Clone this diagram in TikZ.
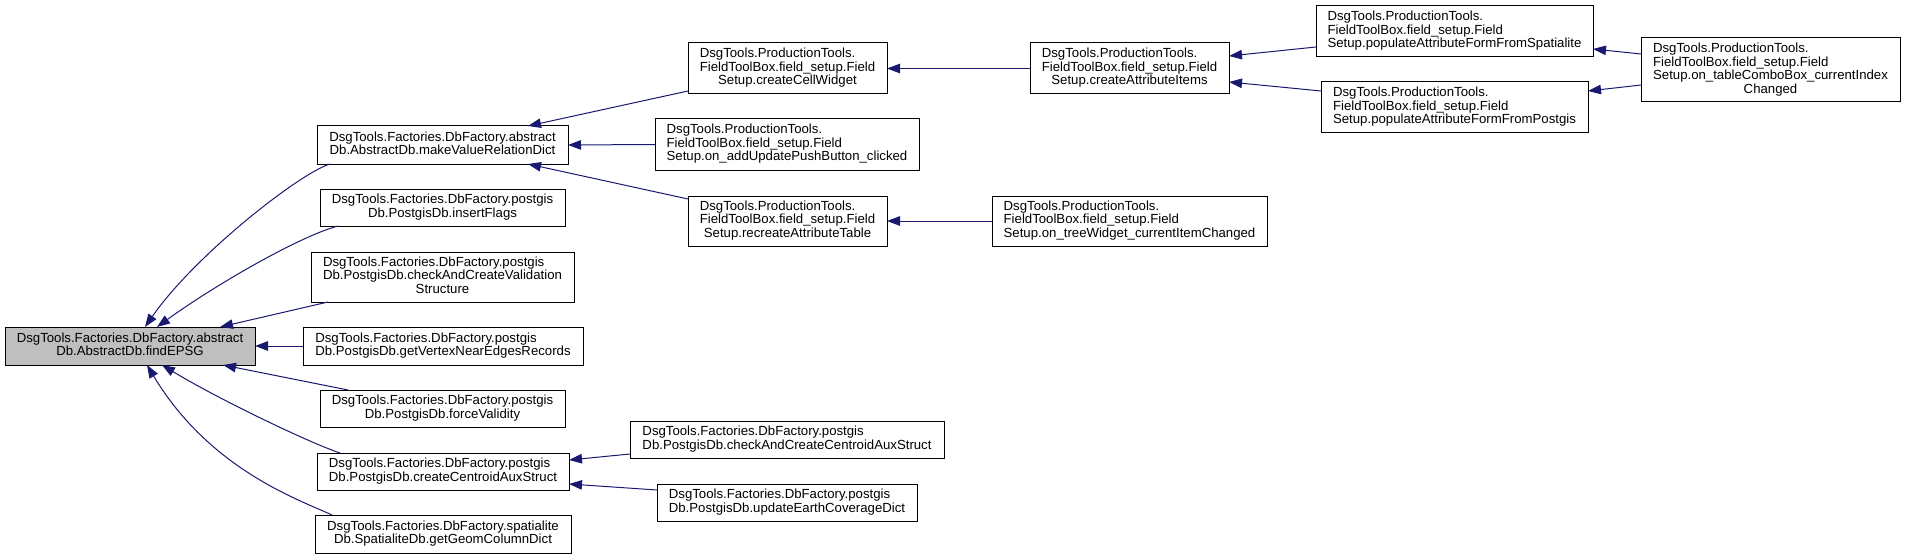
\documentclass[tikz,border=0pt]{standalone}
\usepackage{fontspec}
\setmainfont{Liberation Sans}
\usetikzlibrary{arrows.meta}
\definecolor{edgeblue}{HTML}{191970}
\definecolor{hlgray}{HTML}{BFBFBF}
\newcommand\lbox[2]{\begin{tabular}{@{}l@{}}#1\\\multicolumn{1}{@{}c@{}}{#2}\end{tabular}}
\newcommand\bx[7][]{\node[nbox,#1,minimum width={#5-#3},minimum height={#6-#4}] (#2) at ({(#3+#5)/2},{(#4+#6)/2}) {#7};}
\begin{document}
\begin{tikzpicture}[x=1pt,y=-1pt,
  nbox/.style={draw=black,line width=1pt,inner sep=0pt,outer sep=0pt,font=\fontsize{13.2}{13.2}\selectfont},
  edge/.style={draw=edgeblue,line width=1pt,{Triangle[length=13pt,width=9.5pt,fill=edgeblue]}-}]
\useasboundingbox (0,0) rectangle (1905,559);
\renewcommand\arraystretch{1}
% left column
\bx[fill=hlgray]{epsg}{5}{327}{255}{365}{\lbox{DsgTools.Factories.DbFactory.abstract}{Db.AbstractDb.findEPSG}}
% second column
\bx{mvr}{317}{126}{568}{164}{\lbox{DsgTools.Factories.DbFactory.abstract}{Db.AbstractDb.makeValueRelationDict}}
\bx{ins}{320}{189}{565}{226}{\lbox{DsgTools.Factories.DbFactory.postgis}{Db.PostgisDb.insertFlags}}
\bx{ccv}{311}{252}{574}{302}{\lbox{DsgTools.Factories.DbFactory.postgis\\Db.PostgisDb.checkAndCreateValidation}{Structure}}
\bx{gvn}{303}{327}{583}{365}{\lbox{DsgTools.Factories.DbFactory.postgis}{Db.PostgisDb.getVertexNearEdgesRecords}}
\bx{fv}{320}{390}{565}{427}{\lbox{DsgTools.Factories.DbFactory.postgis}{Db.PostgisDb.forceValidity}}
\bx{cca}{317}{453}{569}{490}{\lbox{DsgTools.Factories.DbFactory.postgis}{Db.PostgisDb.createCentroidAuxStruct}}
\bx{ggc}{315}{515}{571}{553}{\lbox{DsgTools.Factories.DbFactory.spatialite}{Db.SpatialiteDb.getGeomColumnDict}}
% third column
\bx{ccw}{688}{43}{887}{94}{\lbox{DsgTools.ProductionTools.\\FieldToolBox.field\_setup.Field}{Setup.createCellWidget}}
\bx{oau}{655}{119}{919}{170}{\lbox{DsgTools.ProductionTools.\\FieldToolBox.field\_setup.Field}{Setup.on\_addUpdatePushButton\_clicked}}
\bx{rat}{688}{196}{887}{246}{\lbox{DsgTools.ProductionTools.\\FieldToolBox.field\_setup.Field}{Setup.recreateAttributeTable}}
\bx{ccc}{630}{421}{944}{458}{\lbox{DsgTools.Factories.DbFactory.postgis}{Db.PostgisDb.checkAndCreateCentroidAuxStruct}}
\bx{uec}{657}{484}{917}{521}{\lbox{DsgTools.Factories.DbFactory.postgis}{Db.PostgisDb.updateEarthCoverageDict}}
% fourth column
\bx{cai}{1030}{43}{1229}{94}{\lbox{DsgTools.ProductionTools.\\FieldToolBox.field\_setup.Field}{Setup.createAttributeItems}}
\bx{otw}{992}{196}{1267}{246}{\lbox{DsgTools.ProductionTools.\\FieldToolBox.field\_setup.Field}{Setup.on\_treeWidget\_currentItemChanged}}
% fifth column
\bx{pas}{1316}{6}{1593}{57}{\lbox{DsgTools.ProductionTools.\\FieldToolBox.field\_setup.Field}{Setup.populateAttributeFormFromSpatialite}}
\bx{pap}{1321}{82}{1588}{133}{\lbox{DsgTools.ProductionTools.\\FieldToolBox.field\_setup.Field}{Setup.populateAttributeFormFromPostgis}}
% sixth column
\bx{otc}{1641}{38}{1900}{102}{\lbox{DsgTools.ProductionTools.\\FieldToolBox.field\_setup.Field\\Setup.on\_tableComboBox\_currentIndex}{Changed}}
% edges into findEPSG
\draw[edge] ([shift={(140,0)}]epsg.north west) .. controls (195,255) and (300,173) .. ([shift={(13,0)}]mvr.south west);
\draw[edge] ([shift={(152,0)}]epsg.north west) .. controls (215,285) and (300,236) .. ([shift={(18,0)}]ins.south west);
\draw[edge] ([shift={(215,0)}]epsg.north west) -- ([shift={(17,0)}]ccv.south west);
\draw[edge] (epsg.east) -- (gvn.west);
\draw[edge] ([shift={(218,0)}]epsg.south west) -- ([shift={(28,0)}]fv.north west);
\draw[edge] ([shift={(157,0)}]epsg.south west) .. controls (220,400) and (310,443) .. ([shift={(23,0)}]cca.north west);
\draw[edge] ([shift={(142,0)}]epsg.south west) .. controls (210,470) and (300,500) .. ([shift={(17,0)}]ggc.north west);
% edges into makeValueRelationDict
\draw[edge] ([shift={(211,0)}]mvr.north west) -- ([shift={(0,-3)}]ccw.south west);
\draw[edge] (mvr.east) -- (oau.west);
\draw[edge] ([shift={(211,0)}]mvr.south west) -- ([shift={(0,3)}]rat.north west);
% other edges
\draw[edge] (ccw.east) -- (cai.west);
\draw[edge] (rat.east) -- (otw.west);
\draw[edge] ([shift={(0,13)}]cai.north east) -- ([shift={(0,-10)}]pas.south west);
\draw[edge] ([shift={(0,-12)}]cai.south east) -- ([shift={(0,9)}]pap.north west);
\draw[edge] ([shift={(0,43)}]pas.north east) -- ([shift={(0,16)}]otc.north west);
\draw[edge] ([shift={(0,9)}]pap.north east) -- ([shift={(0,47)}]otc.north west);
\draw[edge] ([shift={(0,7)}]cca.north east) -- ([shift={(0,33)}]ccc.north west);
\draw[edge] ([shift={(0,31)}]cca.north east) -- ([shift={(0,6)}]uec.north west);
\end{tikzpicture}
\end{document}
